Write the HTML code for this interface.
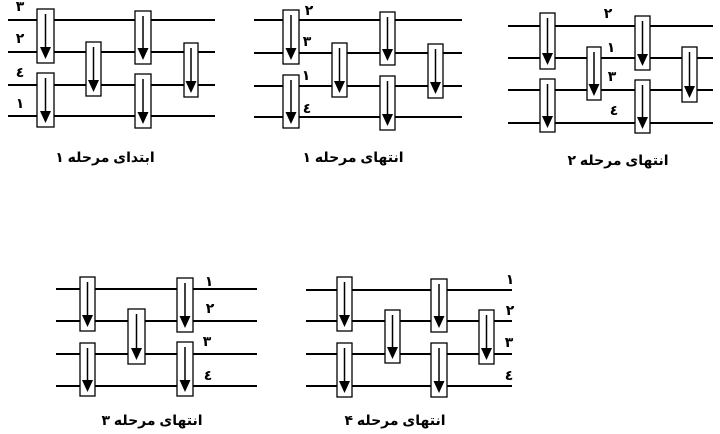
<!DOCTYPE html>
<html><head><meta charset="utf-8"><style>
html,body{margin:0;padding:0;background:#fff;width:720px;height:434px;overflow:hidden}
svg{display:block}
text{font-family:"Liberation Sans","DejaVu Sans",sans-serif;font-size:14px;font-weight:bold;fill:#000}
</style></head><body>
<svg id="s" width="720" height="434" viewBox="0 0 720 434">
<g id="g"></g>
<text x="20" y="11" text-anchor="middle">۳</text>
<text x="20" y="43" text-anchor="middle">۲</text>
<text x="20" y="77" text-anchor="middle">٤</text>
<text x="20" y="108" text-anchor="middle">۱</text>
<text x="105" y="162" text-anchor="middle" direction="rtl">ابتدای مرحله ۱</text>

<text x="309" y="15" text-anchor="middle">۲</text>
<text x="307" y="46" text-anchor="middle">۳</text>
<text x="306" y="80" text-anchor="middle">۱</text>
<text x="307" y="113" text-anchor="middle">٤</text>
<text x="353" y="162" text-anchor="middle" direction="rtl">انتهای مرحله ۱</text>

<text x="608" y="18" text-anchor="middle">۲</text>
<text x="611" y="52" text-anchor="middle">۱</text>
<text x="612" y="81" text-anchor="middle">۳</text>
<text x="614" y="115" text-anchor="middle">٤</text>
<text x="618" y="165" text-anchor="middle" direction="rtl">انتهای مرحله ۲</text>

<text x="209" y="286" text-anchor="middle">۱</text>
<text x="210" y="313" text-anchor="middle">۲</text>
<text x="207" y="346" text-anchor="middle">۳</text>
<text x="208" y="380" text-anchor="middle">٤</text>
<text x="152" y="425" text-anchor="middle" direction="rtl">انتهای مرحله ۳</text>

<text x="510" y="284" text-anchor="middle">۱</text>
<text x="510" y="315" text-anchor="middle">۲</text>
<text x="509" y="347" text-anchor="middle">۳</text>
<text x="509" y="380" text-anchor="middle">٤</text>
<text x="395" y="425" text-anchor="middle" direction="rtl">انتهای مرحله ۴</text>
</svg>
<script>
var NS="http://www.w3.org/2000/svg",g=document.getElementById("g");
function el(t,a){var e=document.createElementNS(NS,t);for(var k in a)e.setAttribute(k,a[k]);g.appendChild(e);return e;}
function line(x1,y1,x2,y2){el("line",{x1:x1,y1:y1,x2:x2,y2:y2,stroke:"#000","stroke-width":2});}
function comp(x1,x2,y1,y2){
 el("rect",{x:x1,y:y1,width:x2-x1,height:y2-y1,fill:"#fff",stroke:"#000","stroke-width":1.3});
 var cx=(x1+x2)/2,tip=y2-4;
 el("line",{x1:cx,y1:y1+5,x2:cx,y2:tip-9,stroke:"#000","stroke-width":1.5});
 el("polygon",{points:(cx-5.5)+","+(tip-12)+" "+(cx+5.5)+","+(tip-12)+" "+cx+","+tip,fill:"#000"});
}
var D=[
 {ys:[20,52,85,116],x0:8,x1:215,c:[[37,54,9,63],[37,54,73,127],[86,101,42,96],[135,151,11,64],[135,151,74,128],[184,198,43,97]]},
 {ys:[20,53,86,117],x0:254,x1:462,c:[[283,299,10,64],[283,299,75,128],[332,347,43,97],[380,395,12,65],[380,395,76,130],[428,443,44,98]]},
 {ys:[26,58,90,123],x0:508,x1:713,c:[[540,555,13,69],[540,555,79,132],[587,601,47,100],[635,650,16,70],[635,650,80,133],[682,697,47,102]]},
 {ys:[289,321,354,386],x0:56,x1:257,c:[[80,95,277,331],[80,95,343,396],[128,145,309,364],[177,193,278,332],[177,193,342,396]]},
 {ys:[290,321,354,386],x0:306,x1:512,c:[[337,352,277,331],[337,352,343,397],[385,400,310,363],[431,447,279,332],[431,447,343,397],[479,494,310,364]]}
];
D.forEach(function(d){d.ys.forEach(function(y){line(d.x0,y,d.x1,y);});d.c.forEach(function(c){comp(c[0],c[1],c[2],c[3]);});});
</script>
</body></html>
